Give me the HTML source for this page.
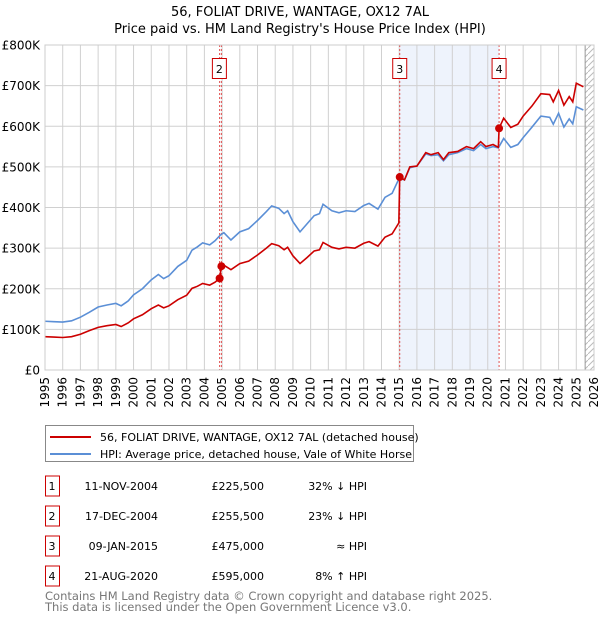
<!DOCTYPE html>
<html><head><meta charset="utf-8"><style>
body{margin:0;background:#fff;font-family:"DejaVu Sans","Liberation Sans",sans-serif;}
svg text{font-family:"DejaVu Sans","Liberation Sans",sans-serif;}
</style></head><body>
<svg id="c" width="600" height="620" xmlns="http://www.w3.org/2000/svg">
<text x="300" y="16" text-anchor="middle" font-size="13">56, FOLIAT DRIVE, WANTAGE, OX12 7AL</text>
<text x="300" y="33" text-anchor="middle" font-size="13">Price paid vs. HM Land Registry's House Price Index (HPI)</text>
<g id="plot"></g>
<g>
<rect x="45.5" y="425.5" width="368" height="36" fill="#fff" stroke="#888"/>
<line x1="50" y1="437" x2="91" y2="437" stroke="#cc0000" stroke-width="2"/>
<text x="100" y="441" font-size="11">56, FOLIAT DRIVE, WANTAGE, OX12 7AL (detached house)</text>
<line x1="50" y1="454" x2="91" y2="454" stroke="#5b8fd6" stroke-width="2"/>
<text x="100" y="458" font-size="11">HPI: Average price, detached house, Vale of White Horse</text>
</g>
<g id="table" font-size="11"></g>
<text x="45" y="600" font-size="11.5" fill="#777">Contains HM Land Registry data © Crown copyright and database right 2025.</text>
<text x="45" y="611" font-size="11.5" fill="#777">This data is licensed under the Open Government Licence v3.0.</text>
</svg>
<script>
const hpiDates=[1995.0,1995.5,1996,1996.5,1997,1997.5,1998,1998.5,1999,1999.3,1999.7,2000,2000.5,2001,2001.4,2001.7,2002,2002.5,2003,2003.3,2003.6,2003.9,2004.3,2004.6,2004.9,2005.1,2005.5,2006,2006.5,2007,2007.5,2007.8,2008.2,2008.5,2008.7,2009,2009.4,2009.8,2010.2,2010.5,2010.7,2011.2,2011.6,2012,2012.5,2013,2013.3,2013.8,2014.2,2014.6,2015.0,2015.3,2015.6,2016,2016.5,2016.8,2017.2,2017.5,2017.8,2018.3,2018.8,2019.2,2019.6,2019.9,2020.3,2020.6,2020.9,2021.3,2021.7,2022,2022.5,2023,2023.5,2023.7,2024,2024.3,2024.6,2024.8,2025.0,2025.4];
const hpiValues=[120,119,118,121,130,142,155,160,164,158,170,185,200,222,235,225,232,255,270,295,303,313,308,318,332,338,320,340,348,368,390,404,398,385,392,365,340,360,380,385,408,392,387,392,390,405,410,396,425,435,472,468,498,502,532,528,530,515,530,535,545,540,555,545,550,547,570,548,555,572,598,625,622,605,632,598,618,606,648,640];
const redDates=[1995.0,1995.5,1996,1996.5,1997,1997.5,1998,1998.5,1999,1999.3,1999.7,2000,2000.5,2001,2001.4,2001.7,2002,2002.5,2003,2003.3,2003.6,2003.9,2004.3,2004.6,2004.86,2004.96,2005.1,2005.5,2006,2006.5,2007,2007.5,2007.8,2008.2,2008.5,2008.7,2009,2009.4,2009.8,2010.2,2010.5,2010.7,2011.2,2011.6,2012,2012.5,2013,2013.3,2013.8,2014.2,2014.6,2014.98,2015.03,2015.3,2015.6,2016,2016.5,2016.8,2017.2,2017.5,2017.8,2018.3,2018.8,2019.2,2019.6,2019.9,2020.3,2020.6,2020.64,2020.9,2021.3,2021.7,2022,2022.5,2023,2023.5,2023.7,2024,2024.3,2024.6,2024.8,2025.0,2025.4];
const redValues=[82,81,80,82,88,97,105,109,112,107,116,126,136,151,160,153,158,173,184,201,206,213,209,216,225.5,255.5,258,247,262,268,283,300,311,306,296,302,281,262,277,293,296,314,302,298,302,300,312,316,305,327,335,362,475,468,500,502,535,530,535,518,535,538,550,545,562,550,555,548,595,620,597,605,625,650,680,678,660,688,652,673,660,706,697];
const saleIds=["1","2","3","4"];
const saleDates=[2004.86,2004.96,2015.03,2020.64];
const salePrices=[225.5,255.5,475,595];
const saleDateLabels=["11-NOV-2004","17-DEC-2004","09-JAN-2015","21-AUG-2020"];
const salePriceLabels=["£225,500","£255,500","£475,000","£595,000"];
const saleHpiLabels=["32% ↓ HPI","23% ↓ HPI","≈ HPI","8% ↑ HPI"];
const yTicks=[0,100,200,300,400,500,600,700,800];
const yTickLabels=["£0","£100K","£200K","£300K","£400K","£500K","£600K","£700K","£800K"];
const xYears=[1995,1996,1997,1998,1999,2000,2001,2002,2003,2004,2005,2006,2007,2008,2009,2010,2011,2012,2013,2014,2015,2016,2017,2018,2019,2020,2021,2022,2023,2024,2025,2026];

const L=45,R=594,T=45,B=370,NS="http://www.w3.org/2000/svg";
const X=d=>L+(d-1995)/31*(R-L);
const Y=v=>B-v/800*(B-T);
const plot=document.getElementById('plot');
function mk(tag,attrs,parent){const e=document.createElementNS(NS,tag);for(const k in attrs)e.setAttribute(k,attrs[k]);(parent||plot).appendChild(e);return e;}
// shaded region and hatched
const sh=mk('rect',{x:X(2015.03),y:T,width:X(2020.64)-X(2015.03),height:B-T,fill:'#eef3fc'});


const defs=mk('defs',{});
const pat=mk('pattern',{id:'hatch',width:6,height:6,patternUnits:'userSpaceOnUse'},defs);
mk('path',{d:'M0,6 L6,0',stroke:'#bbb','stroke-width':1},pat);
const ht=mk('rect',{x:X(2025.5),y:T,width:R-X(2025.5),height:B-T,fill:'url(#hatch)'});


// grid
xYears.forEach(y=>{
  const g=mk('line',{x1:X(y),x2:X(y),y1:T,y2:B,stroke:'#d0d0d0','stroke-width':1});
  
  
  const t=mk('text',{x:0,y:0,'font-size':12,'text-anchor':'end',transform:`translate(${X(y)+4},${B+7}) rotate(-90)`});
  t.textContent=y;
  
  
});
yTicks.forEach((v,i)=>{
  const g=mk('line',{x1:L,x2:R,y1:Y(v),y2:Y(v),stroke:'#d0d0d0','stroke-width':1});
  
  
  const t=mk('text',{x:L-5,y:Y(v)+4.5,'font-size':12,'text-anchor':'end'});
  t.textContent=yTickLabels[i];
  
  
});
const hl=mk('line',{x1:X(2025.5),x2:X(2025.5),y1:T,y2:B,stroke:'#999','stroke-width':1});


// vlines
saleDates.forEach(d=>{
  const v=mk('line',{x1:X(d),x2:X(d),y1:T,y2:B,stroke:'#e05050','stroke-width':1,'stroke-dasharray':'2,2'});
  
  
});
// series
const hp=mk('polyline',{points:hpiDates.map((d,i)=>X(d)+','+Y(hpiValues[i])).join(' '),fill:'none',stroke:'#5b8fd6','stroke-width':1.6});


const rp=mk('polyline',{points:redDates.map((d,i)=>X(d)+','+Y(redValues[i])).join(' '),fill:'none',stroke:'#cc0000','stroke-width':1.6});


saleDates.forEach((d,i)=>{
  const p=mk('circle',{cx:X(d),cy:Y(salePrices[i]),r:4,fill:'#cc0000'});
  
  
  if(i===0)return;
  const bx=X(d)-(i===1?9:7);
  const b=mk('rect',{x:bx,y:58.5,width:14,height:20,fill:'#fff',stroke:'#cc0000','stroke-width':1});
  
  
  const t=mk('text',{x:bx+7,y:73,'font-size':11,'text-anchor':'middle'});
  t.textContent=saleIds[i];
  
  
});
const bd=mk('rect',{x:L,y:T,width:R-L,height:B-T,fill:'none',stroke:'#ccc'});


// table
const tb=document.getElementById('table');
saleIds.forEach((id,i)=>{
  const y=476+i*30;
  const b=mk('rect',{x:45.5,y:y,width:14,height:20,fill:'#fff',stroke:'#cc0000'},tb);
  
  
  const cells=[[52,'middle',id],[158,'end',saleDateLabels[i]],[264,'end',salePriceLabels[i]],[367,'end',saleHpiLabels[i]]];
  cells.forEach(c=>{
    const t=mk('text',{x:c[0],y:y+14,'text-anchor':c[1]},tb);
    t.textContent=c[2];
    
    
  });
});
</script>
</body></html>
